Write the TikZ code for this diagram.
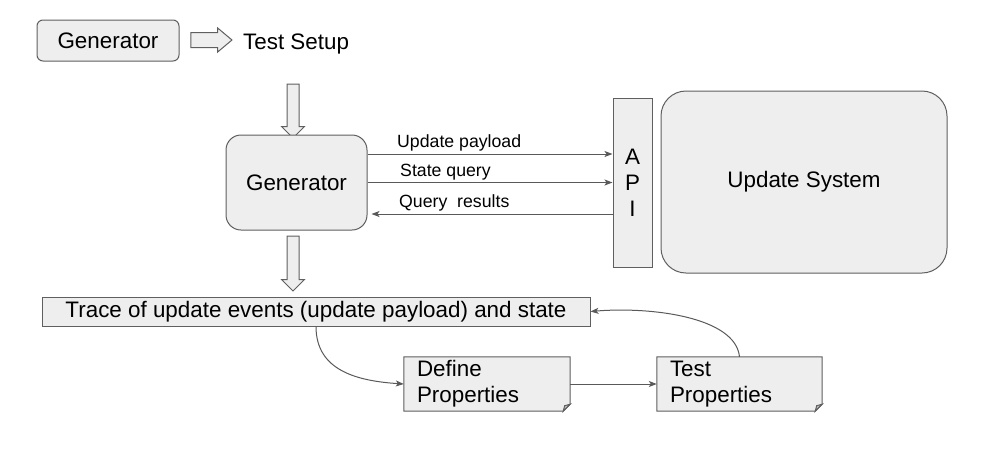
\documentclass[tikz,border=0pt]{standalone}
\usepackage{fontspec}
\setmainfont{Liberation Sans}
\usetikzlibrary{shapes.arrows,arrows.meta,backgrounds,calc}
\definecolor{boxfill}{HTML}{EEEEEE}
\definecolor{boxline}{HTML}{5F5F5F}
\definecolor{conline}{HTML}{595959}
\tikzset{
  big/.style={font=\fontsize{22.4}{26}\selectfont},
  small/.style={font=\fontsize{17.7}{21}\selectfont},
  box/.style={draw=boxline, fill=boxfill, line width=1pt, big, inner sep=0pt},
  blockarrow/.style={single arrow, draw=boxline, fill=boxfill, line width=1pt, inner xsep=0pt, minimum width=0pt},
  conn/.style={draw=conline, line width=1pt, -{Stealth[length=8pt,width=6pt,inset=2pt]}},
  docbox/.style={big, inner ysep=0pt, inner xsep=13pt, align=left, minimum height=54pt},
  doc/.style={draw=boxline, fill=boxfill, line width=1pt, line join=miter},
  lbl/.style={small, inner sep=0pt, anchor=base west},
}
\begin{document}
\begin{tikzpicture}[x=1pt,y=-1pt]
\useasboundingbox (0,0) rectangle (997,451);
% top row
\node[box, rounded corners=6pt, minimum width=142pt, minimum height=41pt] (topgen) at (108,40.5) {Generator};
\node[blockarrow, minimum height=41pt, inner ysep=7pt, single arrow head extend=4.5pt, single arrow tip angle=80] (arr1) at (207,40) {};
\node[big, inner sep=0pt, anchor=west] (setup) at (243,44) {Test Setup};
% down arrow 1
\node[blockarrow, rotate=-90, minimum height=54pt, inner ysep=5.5pt, single arrow head extend=5.5pt, single arrow tip angle=90] (da1) at (293,108) {};
% generator
\node[box, rounded corners=15pt, minimum width=141pt, minimum height=95pt] (gen) at (296.5,182.5) {Generator};
% API
\node[box, align=center, minimum width=39pt, minimum height=169pt] (api) at (632.5,182.5) {A\\P\\I};
% update system
\node[box, rounded corners=25pt, minimum width=286pt, minimum height=182pt] (upd) at (804,182) {Update System};
% connectors gen <-> api
\draw[conn] ([yshift=28.5pt]gen.east) -- ([yshift=28.5pt]gen.east -| api.west);
\draw[conn] (gen.east) -- (gen.east -| api.west);
\draw[conn, shorten >=4pt] ([yshift=-31.5pt]gen.east -| api.west) -- ([yshift=-31.5pt]gen.east);
\node[lbl] (l1) at (397,147) {Update payload};
\node[lbl] (l2) at (400,176) {State query};
\node[lbl] (l3) at (399,207) {Query\ \ results};
% down arrow 2
\node[blockarrow, rotate=-90, minimum height=55pt, inner ysep=5.5pt, single arrow head extend=5.5pt, single arrow tip angle=90] (da2) at (293,260.5) {};
% trace
\node[box, minimum width=548pt, minimum height=29pt] (trace) at (316,311.5) {Trace of update events (update payload) and state};
% doc boxes
\node[docbox, text width=140pt] (def) at (487,384) {Define\\Properties};
\node[docbox, text width=139pt] (test) at (739.5,384) {Test\\Properties};
\begin{scope}[on background layer]
\foreach \n in {def,test}{
  \filldraw[doc] (\n.north west) -- (\n.north east) -- ([yshift=7pt]\n.south east) -- ([xshift=-7pt]\n.south east) -- (\n.south west) -- cycle;
  \draw[doc, fill=boxline!40] ([xshift=-7pt]\n.south east) -- ([xshift=-5.5pt,yshift=5.5pt]\n.south east) -- ([yshift=7pt]\n.south east) -- cycle;
}
\end{scope}
\draw[conn] (trace.south) .. controls +(0,45) and +(-45,-3) .. (def.west);
\draw[conn] (def.east) -- (test.west);
\draw[conn] (test.north) .. controls +(-4,-40) and +(60,-5) .. (trace.east);
\end{tikzpicture}
\end{document}
